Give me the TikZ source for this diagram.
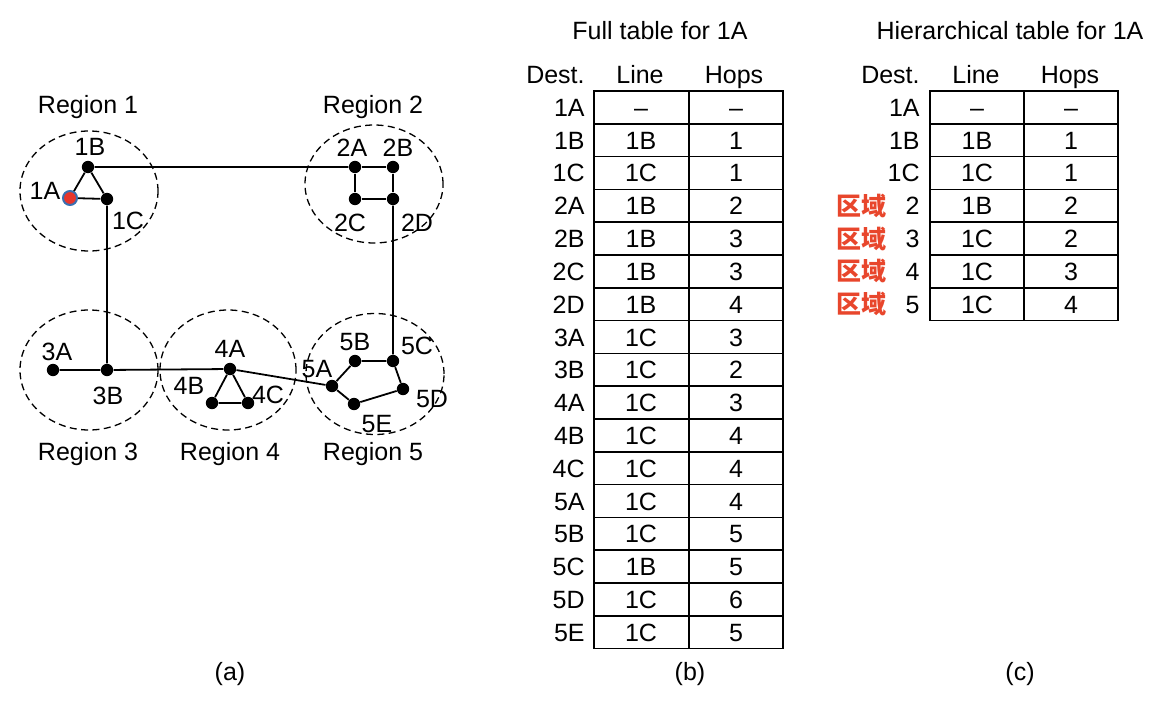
\documentclass[tikz,border=0pt]{standalone}
\usepackage{fontspec}
\setmainfont{Liberation Sans}
\newfontfamily\cjk{Noto Sans CJK SC}
\usetikzlibrary{shapes.geometric}
\definecolor{redlab}{HTML}{E8462C}
\definecolor{dotred}{HTML}{E8352B}
\definecolor{dotblue}{HTML}{3A6FB0}
\tikzset{
  dot/.style={circle,fill=black,inner sep=0pt,minimum size=6.2pt},
  srcdot/.style={circle,fill=dotred,draw=dotblue,line width=1pt,inner sep=0pt,minimum size=7pt},
  lab/.style={inner sep=0pt,text height=9pt,text depth=0pt,font=\fontsize{12.5}{14}\selectfont},
  region/.style={draw,dash pattern=on 3.5pt off 2.2pt,line width=0.65pt,ellipse,inner sep=0pt},
  edge/.style={line width=0.9pt},
  grid/.style={line width=0.8pt},
  rlab/.style={inner sep=0pt,font=\cjk\bfseries\fontsize{12.5}{14}\selectfont,text=redlab},
}
\begin{document}
\begin{tikzpicture}[x=0.5pt,y=-0.5pt]
\useasboundingbox (0,0) rectangle (1154,700);
% regions
\node[region,minimum width=69pt,minimum height=60pt] (r1) at (89,191) {};
\node[region,minimum width=69pt,minimum height=59pt] (r2) at (374,184) {};
\node[region,minimum width=69pt,minimum height=60pt] (r3) at (89,370) {};
\node[region,minimum width=68pt,minimum height=60pt] (r4) at (228,370) {};
\node[region,minimum width=69pt,minimum height=60.5pt] (r5) at (375,374) {};
% routers
\node[srcdot] (n1A) at (70,198) {};
\node[dot] (n1B) at (88,167) {};
\node[dot] (n1C) at (107,199) {};
\node[dot] (n2A) at (355,167) {};
\node[dot] (n2B) at (393,167) {};
\node[dot] (n2C) at (355,199) {};
\node[dot] (n2D) at (393,199) {};
\node[dot] (n3A) at (53,370) {};
\node[dot] (n3B) at (107,370) {};
\node[dot] (n4A) at (230,369) {};
\node[dot] (n4B) at (212,403) {};
\node[dot] (n4C) at (248,403) {};
\node[dot] (n5A) at (332,386) {};
\node[dot] (n5B) at (355,361) {};
\node[dot] (n5C) at (393,361) {};
\node[dot] (n5D) at (403,389) {};
\node[dot] (n5E) at (354,404) {};
% edges
\draw[edge] (n1A)--(n1B) (n1A)--(n1C) (n1B)--(n1C) (n1B)--(n2A);
\draw[edge] (n2A)--(n2B) (n2A)--(n2C) (n2C)--(n2D) (n2B)--(n2D);
\draw[edge] (n1C)--(n3B) (n3A)--(n3B) (n3B)--(n4A);
\draw[edge] (n4A)--(n4B) (n4A)--(n4C) (n4B)--(n4C) (n4A)--(n5A);
\draw[edge] (n5A)--(n5B) (n5B)--(n5C) (n5C)--(n5D) (n5D)--(n5E) (n5E)--(n5A) (n2D)--(n5C);
% router labels
\node[lab] (l1A) at (45,190) {1A};
\node[lab] (l1B) at (90,147) {1B};
\node[lab] (l1C) at (128,220) {1C};
\node[lab] (l2A) at (352,148) {2A};
\node[lab] (l2B) at (398,148) {2B};
\node[lab] (l2C) at (350,222) {2C};
\node[lab] (l2D) at (417,222) {2D};
\node[lab] (l3A) at (57,351) {3A};
\node[lab] (l3B) at (108,395) {3B};
\node[lab] (l4A) at (230,348) {4A};
\node[lab] (l4B) at (189,385) {4B};
\node[lab] (l4C) at (268,394) {4C};
\node[lab] (l5A) at (317,368) {5A};
\node[lab] (l5B) at (355,341) {5B};
\node[lab] (l5C) at (417,345) {5C};
\node[lab] (l5D) at (432,398) {5D};
\node[lab] (l5E) at (377,423) {5E};
% region labels
\node[lab] (t1) at (88,105) {Region 1};
\node[lab] (t2) at (373,105) {Region 2};
\node[lab] (t3) at (88,451) {Region 3};
\node[lab] (t4) at (230,451) {Region 4};
\node[lab] (t5) at (373,451) {Region 5};
\node[lab] (ca) at (230,671) {(a)};
% full table
\node[lab] (ftitle) at (660,31) {Full table for 1A};
\node[lab,anchor=east] (fhd) at (585,75) {Dest.};
\node[lab] (fhl) at (640,75) {Line};
\node[lab] (fhh) at (734,75) {Hops};
\foreach \d/\l/\h [count=\i from 0] in {1A/--/--,1B/1B/1,1C/1C/1,2A/1B/2,2B/1B/3,2C/1B/3,2D/1B/4,3A/1C/3,3B/1C/2,4A/1C/3,4B/1C/4,4C/1C/4,5A/1C/4,5B/1C/5,5C/1B/5,5D/1C/6,5E/1C/5}{
  \pgfmathsetmacro\yt{91+32.8*\i}
  \pgfmathsetmacro\yc{91+32.8*(\i+0.5)}
  \draw[grid] (594,\yt) rectangle (783,\yt+32.8);
  \draw[grid] (689,\yt) -- (689,\yt+32.8);
  \node[lab,anchor=east] (fd\i) at (585,\yc) {\d};
  \node[lab] (fl\i) at (641,\yc) {\l};
  \node[lab] (fh\i) at (736,\yc) {\h};
}
\node[lab] (cb) at (690,671) {(b)};
% hierarchical table
\node[lab] (htitle) at (1010,31) {Hierarchical table for 1A};
\node[lab,anchor=east] (hhd) at (920,75) {Dest.};
\node[lab] (hhl) at (976,75) {Line};
\node[lab] (hhh) at (1070,75) {Hops};
\foreach \d/\l/\h [count=\i from 0] in {1A/--/--,1B/1B/1,1C/1C/1,2/1B/2,3/1C/2,4/1C/3,5/1C/4}{
  \pgfmathsetmacro\yt{91+32.8*\i}
  \pgfmathsetmacro\yc{91+32.8*(\i+0.5)}
  \draw[grid] (930,\yt) rectangle (1118,\yt+32.8);
  \draw[grid] (1024,\yt) -- (1024,\yt+32.8);
  \node[lab,anchor=east] (hd\i) at (920,\yc) {\d};
  \node[lab] (hl\i) at (977,\yc) {\l};
  \node[lab] (hh\i) at (1071,\yc) {\h};
}
\foreach \i in {3,4,5,6}{
  \pgfmathsetmacro\yc{91+32.8*(\i+0.5)}
  \node[rlab] (rg\i) at (861,\yc) {区域};
}
\node[lab] (cc) at (1020,671) {(c)};
\end{tikzpicture}
\end{document}
